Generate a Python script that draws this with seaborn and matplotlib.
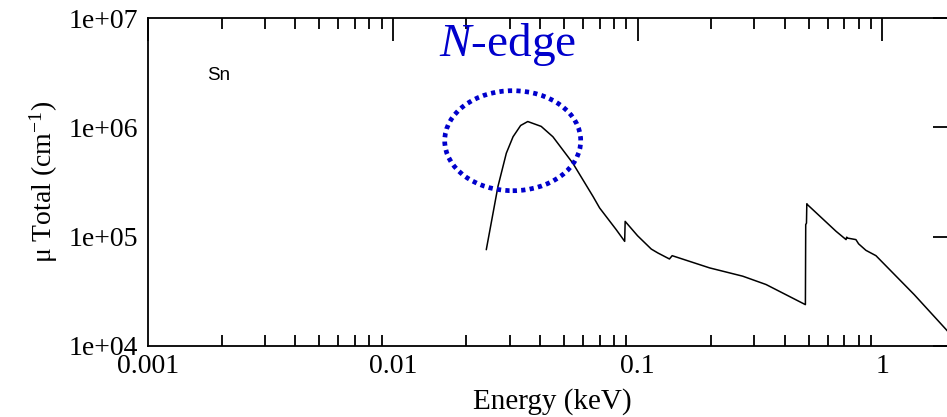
import numpy as np
import pandas as pd
import matplotlib
matplotlib.use("Agg")
import matplotlib.pyplot as plt
import seaborn as sns
from matplotlib.patches import Ellipse
from matplotlib.ticker import FixedLocator, FixedFormatter, LogLocator, NullFormatter

# ---- data ----
energy_kev = [0.0241, 0.0269, 0.0291, 0.0310, 0.0333, 0.0356, 0.0404, 0.0451,
              0.0544, 0.0658, 0.0700, 0.0818, 0.0886, 0.0890, 0.100, 0.1138, 0.121,
              0.135, 0.1385, 0.197, 0.269, 0.335, 0.485, 0.4865, 0.490,
              0.4915, 0.496, 0.647, 0.711, 0.715, 0.722, 0.780, 0.800,
              0.857, 0.942, 1.35, 1.82, 2.0]
mu_total = [7.6e4, 2.88e5, 5.8e5, 8.2e5, 1.04e6, 1.13e6, 1.02e6, 8.2e5,
            4.7e5, 2.33e5, 1.83e5, 1.16e5, 9.06e4, 1.38e5, 1.02e5, 7.7e4, 7.1e4,
            6.25e4, 6.7e4, 5.18e4, 4.35e4, 3.65e4, 2.39e4, 1.29e5, 1.33e5,
            2.0e5, 1.95e5, 1.12e5, 9.4e4, 9.9e4, 9.7e4, 9.4e4, 8.6e4,
            7.5e4, 6.7e4, 2.95e4, 1.42e4, 1.12e4]

x_ticks = [0.001, 0.01, 0.1, 1]
x_tick_labels = ["0.001", "0.01", "0.1", "1"]
y_ticks = [1e4, 1e5, 1e6, 1e7]
y_tick_labels = ["1e+04", "1e+05", "1e+06", "1e+07"]

element = "Sn"
annotation = "$\\mathit{N}$-edge"

df = pd.DataFrame({"Energy": energy_kev, "mu": mu_total})

sns.set_theme(style="white")
plt.rcParams["font.family"] = ["Liberation Serif", "DejaVu Serif"]
plt.rcParams["mathtext.fontset"] = "custom"
plt.rcParams["mathtext.rm"] = "Liberation Serif"
plt.rcParams["mathtext.it"] = "Liberation Serif:italic"
plt.rcParams["text.color"] = "black"
plt.rcParams["axes.labelcolor"] = "black"

W, H = 947, 417
fig = plt.figure(figsize=(W / 100, H / 100), dpi=100)
left, right, top, bottom = 148, 956, 18, 346
ax = fig.add_axes([left / W, 1 - bottom / H, (right - left) / W, (bottom - top) / H])

sns.lineplot(data=df, x="Energy", y="mu", ax=ax, color="black", linewidth=1.1,
             estimator=None, sort=False)

ax.set_xscale("log")
ax.set_yscale("log")
ax.set_xlim(0.001, 2.0)
ax.set_ylim(1e4, 1e7)

ax.xaxis.set_major_locator(FixedLocator(x_ticks))
ax.xaxis.set_major_formatter(FixedFormatter(x_tick_labels))
ax.xaxis.set_minor_locator(LogLocator(base=10, subs=np.arange(2, 10)))
ax.xaxis.set_minor_formatter(NullFormatter())
ax.yaxis.set_major_locator(FixedLocator(y_ticks))
ax.yaxis.set_major_formatter(FixedFormatter(y_tick_labels))
ax.yaxis.set_minor_locator(FixedLocator([]))

for s in ax.spines.values():
    s.set_color("black")
    s.set_linewidth(1.3)

ax.tick_params(axis="both", which="major", direction="in", length=16.5, width=1.3,
               colors="black", labelcolor="black", labelsize=20, top=True, right=True)
ax.tick_params(axis="x", which="major", pad=6)
ax.tick_params(axis="x", which="minor", direction="in", length=8, width=1.3,
               colors="black", top=True, bottom=True)
ax.tick_params(axis="y", which="major", pad=7)

ax.set_xlabel("Energy (keV)", fontsize=21, labelpad=6, color="black")
ax.set_ylabel("μ Total (cm$^{-1}$)", fontsize=20, labelpad=6, color="black")

ax.text(218.5 / W, 1 - 76 / H, element, transform=fig.transFigure, fontsize=13.5,
        family=["Liberation Sans", "DejaVu Sans"], ha="center", va="center",
        color="black")

fig.text(508 / W, 1 - 45 / H, annotation, color="#0000cc", fontsize=34,
         ha="center", va="center")

ell = Ellipse((512.7 / W, 1 - 140.7 / H), 136 / W, 100 / H, transform=fig.transFigure,
              fill=False, edgecolor="#0000cc", linewidth=3.4, linestyle=(0, (0.9, 0.9)))
fig.add_artist(ell)

fig.savefig("out.png", dpi=100)
